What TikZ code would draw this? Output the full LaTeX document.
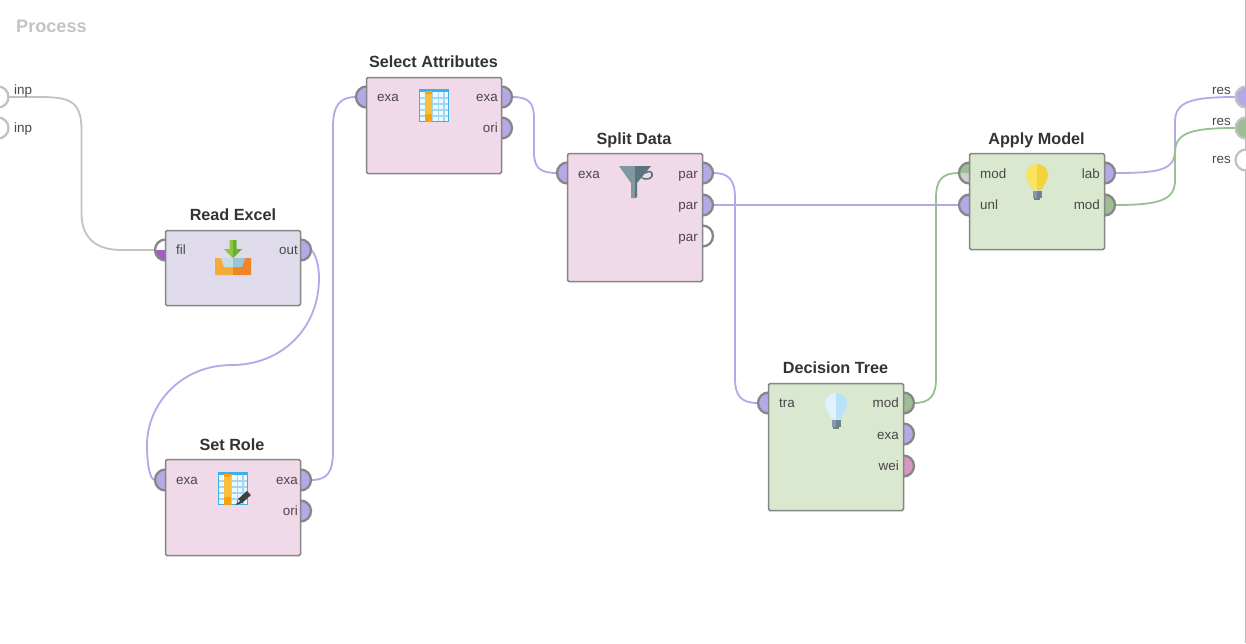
\documentclass[tikz,border=0pt]{standalone}
\usepackage{fontspec}
\setmainfont{Liberation Sans}
\definecolor{pinkbox}{HTML}{F0D9E8}
\definecolor{lavbox}{HTML}{DFDBEB}
\definecolor{greenbox}{HTML}{DAE8D0}
\definecolor{edgegray}{HTML}{868686}
\definecolor{pportc}{HTML}{B5A8E6}
\definecolor{gportc}{HTML}{9DBE92}
\definecolor{wportc}{HTML}{D795BF}
\definecolor{fportc}{HTML}{A15CC4}
\definecolor{lightg}{HTML}{D0D0D0}
\definecolor{wirep}{HTML}{B4A8E8}
\definecolor{wireg}{HTML}{96C190}
\definecolor{wiregray}{HTML}{C2C2C2}
\definecolor{labelc}{HTML}{484848}
\definecolor{titlec}{HTML}{333333}
\definecolor{tblue}{HTML}{3DB0E8}
\definecolor{tcell}{HTML}{EEF9FE}
\definecolor{tgrid}{HTML}{9ED8F4}
\definecolor{torange}{HTML}{F9BE3C}
\definecolor{tdark}{HTML}{F5A30F}
\definecolor{bulbbase}{HTML}{8899A6}
\definecolor{bulbbased}{HTML}{6F818E}
\definecolor{trayl}{HTML}{F3AB3A}
\definecolor{trayr}{HTML}{EE8628}
\definecolor{trayil}{HTML}{C6DCE2}
\definecolor{trayir}{HTML}{98C6D6}
\definecolor{arrl}{HTML}{8CC63F}
\definecolor{arrr}{HTML}{6DAE2E}
\definecolor{funl}{HTML}{82979F}
\definecolor{funr}{HTML}{5C747E}
\definecolor{yell}{HTML}{F8E45F}
\definecolor{yelr}{HTML}{F6D23C}
\definecolor{bluel}{HTML}{E0F3FD}
\definecolor{bluer}{HTML}{B8E2F8}
\tikzset{
  opbox/.style={draw=edgegray,line width=1.5pt,rounded corners=1.5pt,anchor=north west,inner sep=0pt,outer sep=0pt,minimum width=135pt},
  optitle/.style={font=\bfseries\fontsize{16.2}{18}\selectfont,text=titlec,inner sep=0pt,anchor=base},
  plabl/.style={font=\fontsize{13.4}{15}\selectfont,text=labelc,inner sep=0pt,anchor=base west},
  plabr/.style={font=\fontsize{13.4}{15}\selectfont,text=labelc,inner sep=0pt,anchor=base east},
  wire/.style={line width=1.8pt,line cap=round},
}
\newcommand{\halfdisc}[4]{%
  \begin{scope}[shift={(#1,#2)},xscale=#3]
  \path[#4] (0,-10.5) .. controls (5.8,-10.5) and (10.5,-5.8) .. (10.5,0)
     .. controls (10.5,5.8) and (5.8,10.5) .. (0,10.5);
  \end{scope}}
\newcommand{\portc}[6]{%
  \coordinate (#1) at ({#2+(#4)*10.5},#3);
  \halfdisc{#2}{#3}{#4}{fill=#5}
  \halfdisc{#2}{#3}{#4}{draw=#6,line width=2.3pt}}
\newcommand{\porttwo}[6]{%
  \coordinate (#1) at ({#2+(#4)*10.5},#3);
  \begin{scope}
  \clip ({#2-12},{#3-12}) rectangle ({#2+12},#3);
  \halfdisc{#2}{#3}{#4}{fill=#5}
  \end{scope}
  \begin{scope}
  \clip ({#2-12},#3) rectangle ({#2+12},{#3+12});
  \halfdisc{#2}{#3}{#4}{fill=#6}
  \end{scope}
  \halfdisc{#2}{#3}{#4}{draw=edgegray,line width=2.3pt}}
\newcommand{\tableicon}[2]{%
  \begin{scope}[shift={(#1,#2)}]
  \fill[tblue] (0,0) rectangle (30,33);
  \fill[tcell] (1,3) rectangle (29,32);
  \foreach \gx in {6,12.5,18.5,24} \fill[tgrid] (\gx,3) rectangle (\gx+1.8,32);
  \foreach \gy in {8,14,20,26} \fill[tgrid] (1,\gy) rectangle (29,\gy+1.8);
  \fill[torange] (6,2) rectangle (13,33);
  \fill[tdark] (6,25) rectangle (13,33);
  \fill[tdark] (6,2) rectangle (13,5);
  \end{scope}}
\newcommand{\bulbicon}[4]{%
  \begin{scope}[shift={(#1,#2)}]
  \fill[#3] (11,0) .. controls (4,0) and (0,5) .. (0,11) .. controls (0,17) and (4,19) .. (6,26) -- (11,26) -- cycle;
  \fill[#4] (11,0) .. controls (18,0) and (22,5) .. (22,11) .. controls (22,17) and (18,19) .. (16,26) -- (11,26) -- cycle;
  \fill[bulbbase] (6.5,27) rectangle (11,34);
  \fill[bulbbased] (11,27) rectangle (15.5,34);
  \fill[bulbbased] (8,34) rectangle (14,36);
  \end{scope}}
\begin{document}
\begin{tikzpicture}[x=1pt,y=-1pt]
\useasboundingbox (0,0) rectangle (1246,643);
\fill[white] (0,0) rectangle (1246,643);
\draw[lightg!70!gray,line width=1.2pt] (1245.4,0) -- (1245.4,643);

\node[font=\bfseries\fontsize{18.1}{20}\selectfont,text=lightg!85!gray,anchor=base west,inner sep=0pt] (proc) at (16,32) {Process};

\coordinate (inA) at (8.5,97);
\coordinate (inB) at (8.5,128);
\coordinate (reA) at (1235.5,97);
\coordinate (reB) at (1235.5,128);
\coordinate (reC) at (1235.5,160);

\coordinate (refil) at (155,250);
\coordinate (reout) at (311,250);
\coordinate (srin) at (155,480);
\coordinate (srex) at (311,480);
\coordinate (sain) at (356,97);
\coordinate (saex) at (512,97);
\coordinate (sdin) at (557,173);
\coordinate (sdp1) at (713,173);
\coordinate (sdp2) at (713,205);
\coordinate (dtin) at (758,403);
\coordinate (dtmo) at (914,403);
\coordinate (ammo) at (959,173);
\coordinate (amun) at (959,205);
\coordinate (amla) at (1115,173);
\coordinate (ammd) at (1115,205);

\draw[wire,wiregray] (inA) -- ++(30,0) .. controls +(30,0) and +(0,-30) .. ++(43,33) -- ++(0,83) .. controls +(0,28) and +(-22,0) .. ++(40,37) -- (refil);
\draw[wire,wirep] (reout) .. controls (314,252) and (319,262) .. (319,278) .. controls (319,330) and (280,365) .. (232,365)
   .. controls (180,365) and (147,405) .. (147,445) .. controls (147,465) and (150,480) .. (srin);
\draw[wire,wirep] (srex) .. controls (328,480) and (333,472) .. (333,450) -- (333,127) .. controls (333,105) and (340,97) .. (sain);
\draw[wire,wirep] (saex) .. controls (528,97) and (534,102) .. (534,118) -- (534,152) .. controls (534,168) and (540,173) .. (sdin);
\draw[wire,wirep] (sdp1) .. controls (729,173) and (735,180) .. (735,198) -- (735,378) .. controls (735,396) and (741,403) .. (dtin);
\draw[wire,wirep] (sdp2) -- (amun);
\draw[wire,wireg] (dtmo) .. controls (930,403) and (936,396) .. (936,378) -- (936,198) .. controls (936,180) and (942,173) .. (ammo);
\draw[wire,wirep] (amla) .. controls (1160,173) and (1175,170) .. (1175,150) -- (1175,122) .. controls (1175,102) and (1190,97) .. (reA);
\draw[wire,wireg] (ammd) .. controls (1160,205) and (1175,200) .. (1175,180) -- (1175,153) .. controls (1175,133) and (1190,128) .. (reB);

\portc{inAp}{-2}{97}{1}{white}{wiregray}
\portc{inBp}{-2}{128}{1}{white}{wiregray}
\portc{reAp}{1246}{97}{-1}{pportc}{wiregray}
\portc{reBp}{1246}{128}{-1}{gportc}{wiregray}
\portc{reCp}{1246}{160}{-1}{white}{wiregray}
\node[plabl] (linA) at (14,94) {inp};
\node[plabl] (linB) at (14,132.5) {inp};
\node[plabr] (lreA) at (1231,94) {res};
\node[plabr] (lreB) at (1231,125) {res};
\node[plabr] (lreC) at (1231,163.5) {res};

\porttwo{refilp}{165.5}{250}{-1}{white}{fportc}
\portc{reoutp}{300.5}{250}{1}{pportc}{edgegray}
\portc{srinp}{165.5}{480}{-1}{pportc}{edgegray}
\portc{srexp}{300.5}{480}{1}{pportc}{edgegray}
\portc{sroip}{300.5}{511}{1}{pportc}{edgegray}
\portc{sainp}{366.5}{97}{-1}{pportc}{edgegray}
\portc{saexp}{501.5}{97}{1}{pportc}{edgegray}
\portc{saoip}{501.5}{128}{1}{pportc}{edgegray}
\portc{sdinp}{567.5}{173}{-1}{pportc}{edgegray}
\portc{sdaap}{702.5}{173}{1}{pportc}{edgegray}
\portc{sdbbp}{702.5}{205}{1}{pportc}{edgegray}
\portc{sdccp}{702.5}{236}{1}{white}{edgegray}
\portc{dtinp}{768.5}{403}{-1}{pportc}{edgegray}
\portc{dtmop}{903.5}{403}{1}{gportc}{edgegray}
\portc{dtexp}{903.5}{434}{1}{pportc}{edgegray}
\portc{dtwep}{903.5}{466}{1}{wportc}{edgegray}
\porttwo{ammop}{969.5}{173}{-1}{gportc}{lightg}
\portc{amunp}{969.5}{205}{-1}{pportc}{edgegray}
\portc{amlap}{1104.5}{173}{1}{pportc}{edgegray}
\portc{ammdp}{1104.5}{205}{1}{gportc}{edgegray}

\node[opbox,fill=lavbox,minimum height=75pt] (bRE) at (165.5,230.5) {};
\node[opbox,fill=pinkbox,minimum height=96pt] (bSR) at (165.5,459.5) {};
\node[opbox,fill=pinkbox,minimum height=96pt] (bSA) at (366.5,77.5) {};
\node[opbox,fill=pinkbox,minimum height=128pt] (bSD) at (567.5,153.5) {};
\node[opbox,fill=greenbox,minimum height=127pt] (bDT) at (768.5,383.5) {};
\node[opbox,fill=greenbox,minimum height=96pt] (bAM) at (969.5,153.5) {};

\node[optitle] (tRE) at (233,220.5) {Read Excel};
\node[optitle] (tSR) at (232,450.5) {Set Role};
\node[optitle] (tSA) at (433.5,67.5) {Select Attributes};
\node[optitle] (tSD) at (634,144.5) {Split Data};
\node[optitle] (tDT) at (835.5,373.5) {Decision Tree};
\node[optitle] (tAM) at (1036.5,144.5) {Apply Model};

\node[plabl] (l1) at (176,254) {fil};
\node[plabr] (l2) at (298,254) {out};
\node[plabl] (l3) at (176,484) {exa};
\node[plabr] (l4) at (298,484) {exa};
\node[plabr] (l5) at (298,515) {ori};
\node[plabl] (l6) at (377,101) {exa};
\node[plabr] (l7) at (498,101) {exa};
\node[plabr] (l8) at (498,132.5) {ori};
\node[plabl] (l9) at (578,178) {exa};
\node[plabr] (l10) at (698,178) {par};
\node[plabr] (l11) at (698,209) {par};
\node[plabr] (l12) at (698,241) {par};
\node[plabl] (l13) at (779,407) {tra};
\node[plabr] (l14) at (899,407) {mod};
\node[plabr] (l15) at (899,439) {exa};
\node[plabr] (l16) at (899,470) {wei};
\node[plabl] (l17) at (980,178) {mod};
\node[plabl] (l18) at (980,209) {unl};
\node[plabr] (l19) at (1100,178) {lab};
\node[plabr] (l20) at (1100,209) {mod};

% Read Excel icon
\fill[trayl] (215,258) -- (221,258) -- (224,267) -- (233,267) -- (233,275) -- (215,275) -- cycle;
\fill[trayr] (251,258) -- (245,258) -- (242,267) -- (233,267) -- (233,275) -- (251,275) -- cycle;
\fill[trayil] (221,258) -- (233,258) -- (233,267) -- (224,267) -- cycle;
\fill[trayir] (245,258) -- (233,258) -- (233,267) -- (242,267) -- cycle;
\fill[arrl] (229.5,240) rectangle (233,249) (224,249) -- (233,249) -- (233,258) -- cycle;
\fill[arrr] (233,240) rectangle (236.5,249) (233,249) -- (242,249) -- (233,258) -- cycle;

\tableicon{419}{89}
\tableicon{218}{472}
% pencil
\fill[black!75] (236,505) -- (238,499) -- (247,491) -- (251,495) -- (242,503) -- cycle;
\fill[white] (238.5,499.5) -- (240,501) -- (237.5,503) -- cycle;

% funnel
\fill[funl] (619,166) -- (635,166) -- (635,198) -- (631,198) -- (631,183) -- cycle;
\fill[funr] (635,166) -- (651,166) -- (637,183) -- (637,197) -- (635,198) -- cycle;
\draw[funr,line width=1.6pt] (645,173) .. controls (650,170) and (653,172) .. (652,176) .. controls (651,179) and (646,180) .. (642,178);

\bulbicon{1026}{164}{yell}{yelr}
\bulbicon{825}{393}{bluel}{bluer}
\end{tikzpicture}
\end{document}
